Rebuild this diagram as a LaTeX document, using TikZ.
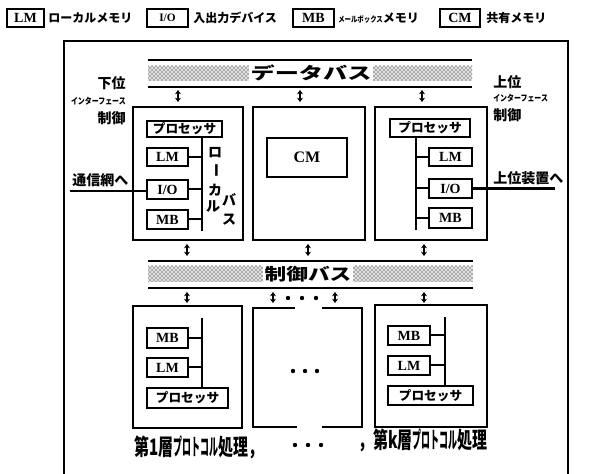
\documentclass[tikz,border=0pt]{standalone}
\usepackage{fontspec}
\setmainfont{Liberation Serif}
\newfontfamily\jp{Noto Sans CJK JP}
\usetikzlibrary{arrows.meta,fit,patterns}
\tikzset{
  bigbox/.style={draw, line width=1.8pt, inner sep=0pt},
  unit/.style={draw, line width=1.5pt, inner sep=0pt, font=\bfseries\fontsize{10.5}{11}\selectfont},
  punit/.style={draw, line width=1.5pt, inner sep=0pt, font=\jp\bfseries\fontsize{9.5}{10}\selectfont},
  jtext/.style={font=\jp\bfseries\fontsize{9}{10}\selectfont, inner sep=0pt},
  lbl/.style={font=\jp\bfseries\fontsize{10.5}{11}\selectfont, inner sep=0pt},
  buswire/.style={line width=1.5pt},
  busline/.style={line width=2pt},
  bi/.style={{Stealth[length=3.2pt,width=4.5pt]}-{Stealth[length=3.2pt,width=4.5pt]}, line width=1.6pt},
  bustext/.style={fill=white, inner sep=1pt, font=\jp\bfseries\fontsize{12.5}{13}\selectfont},
  hatch/.style={pattern=crosshatch dots, pattern color=black},
}
\newcommand{\tinyjp}[2]{\scalebox{#1}[1]{#2}}
% \ubox{style}{name}{x1}{y1}{x2}{y2}{text}
\newcommand{\ubox}[7]{\node[#1, minimum width={(#5-#3)*0.75pt}, minimum height={(#6-#4)*0.75pt}] (#2) at ({(#3+#5)/2},{(#4+#6)/2}) {#7};}
\begin{document}
\begin{tikzpicture}[x=0.75pt,y=-0.75pt]
\useasboundingbox (0,0) rectangle (615,474);
% outer frame
\draw[line width=1.2pt] (64,474) -- (64,41) -- (568,41) -- (568,474);

% legend
\ubox{unit}{lgLM}{7}{9}{44}{27}{LM}
\node[jtext, anchor=west] (lgLMt) at (48,18) {ローカルメモリ};
\ubox{unit,font=\bfseries\fontsize{8.5}{9}\selectfont}{lgIO}{147}{9}{188}{27}{I/O}
\node[jtext, anchor=west] (lgIOt) at (193,18) {入出力デバイス};
\ubox{unit}{lgMB}{293}{9}{334}{27}{MB}
\node[jtext, anchor=west] (lgMBt) at (338,18) {{\fontsize{6}{6}\selectfont\tinyjp{0.8}{メールボックス}}メモリ};
\ubox{unit}{lgCM}{440}{9}{480}{27}{CM}
\node[jtext, anchor=west] (lgCMt) at (486,18) {共有メモリ};

% data bus
\fill[black!12] (148,66) rectangle (472,81);
\fill[hatch] (148,66) rectangle (472,81);
\draw[busline] (148,60) -- (472,60);
\draw[busline] (148,87) -- (472,87);
\node[inner sep=0pt, fit={(148,60) (472,87)}] (dbus) {};
\node[bustext] (dbust) at (311,73) {\scalebox{1.45}[1]{データバス}};

% control bus
\fill[black!12] (148,266) rectangle (473,282);
\fill[hatch] (148,266) rectangle (473,282);
\draw[busline] (148,261) -- (473,261);
\draw[busline] (148,288) -- (473,288);
\node[inner sep=0pt, fit={(148,261) (473,288)}] (cbus) {};
\node[bustext] (cbust) at (308,274) {\scalebox{1.3}[1]{制御バス}};

% top boxes
\node[bigbox, fit={(133,107) (243,240)}] (tl) {};
\node[bigbox, fit={(253,107) (365,240)}] (tm) {};
\node[bigbox, fit={(375,107) (487,240)}] (tr) {};

% arrows data bus <-> top boxes
\draw[bi] (178,90) -- (178,102);
\draw[bi] (300,90) -- (300,102);
\draw[bi] (422,90) -- (422,102);
% arrows top boxes <-> control bus
\draw[bi] (187,244) -- (187,256);
\draw[bi] (308,244) -- (308,256);
\draw[bi] (424,244) -- (424,256);
% arrows control bus <-> bottom boxes
\draw[bi] (187,292) -- (187,303);
\draw[bi] (273,292) -- (273,303);
\draw[bi] (335,292) -- (335,303);
\draw[bi] (424,292) -- (424,303);
\foreach \dx in {288,302,316} \fill (\dx,298) circle (2.2);

% top-left box contents
\ubox{punit}{tlP}{147}{121}{222}{137}{プロセッサ}
\ubox{unit}{tlLM}{147}{148}{188}{166}{LM}
\ubox{unit}{tlIO}{147}{180}{188}{199}{I/O}
\ubox{unit}{tlMB}{147}{210}{188}{229}{MB}
\coordinate (tlbT) at (202,137);
\coordinate (tlbB) at (202,231);
\draw[buswire] (tlbT) -- (tlbB);
\draw[buswire] (tlLM.east) -- (tlLM.east -| tlbT);
\draw[buswire] (tlIO.east) -- (tlIO.east -| tlbT);
\draw[buswire] (tlMB.east) -- (tlMB.east -| tlbT);
\node[lbl] (lb1) at (215,153) {ロ};
\node[lbl] (lb2) at (215,171) {\rotatebox{-90}{ー}};
\node[lbl] (lb3) at (215,190) {カ};
\node[lbl] (lb4) at (213,207) {ル};
\node[lbl] (lb5) at (229,200) {バ};
\node[lbl] (lb6) at (229,220) {ス};
% external line left
\coordinate (netL) at (70,191);
\draw[line width=1.8pt] (netL) -- (netL -| tlIO.west);
\node[lbl, anchor=south west] (netT) at (72,187) {通信網へ};

% CM
\ubox{unit,line width=1.8pt,font=\bfseries\fontsize{12}{12}\selectfont}{cm}{267}{138}{347}{177}{CM}

% top-right box contents
\ubox{punit}{trP}{390}{119}{470}{137}{プロセッサ}
\ubox{unit}{trLM}{429}{148}{472}{166}{LM}
\ubox{unit}{trIO}{429}{179}{472}{198}{I/O}
\ubox{unit}{trMB}{429}{208}{472}{228}{MB}
\coordinate (trbT) at (416,137);
\coordinate (trbB) at (416,230);
\draw[buswire] (trbT) -- (trbB);
\draw[buswire] (trLM.west) -- (trLM.west -| trbT);
\draw[buswire] (trIO.west) -- (trIO.west -| trbT);
\draw[buswire] (trMB.west) -- (trMB.west -| trbT);
\coordinate (hostR) at (555,188);
\draw[line width=1.8pt] (trIO.east) -- (trIO.east -| hostR);
\node[lbl, anchor=south west] (hostT) at (493,185) {上位装置へ};

% interface labels
\node[lbl, anchor=east] (dl1) at (126,83) {下位};
\node[jtext, anchor=east, font=\jp\bfseries\fontsize{6.5}{7}\selectfont] (dl2) at (126,101) {\tinyjp{0.8}{インターフェース}};
\node[lbl, anchor=east] (dl3) at (126,118) {制御};
\node[lbl, anchor=west] (ul1) at (493,82) {上位};
\node[jtext, anchor=west, font=\jp\bfseries\fontsize{6.5}{7}\selectfont] (ul2) at (493,98) {\tinyjp{0.8}{インターフェース}};
\node[lbl, anchor=west] (ul3) at (493,115) {制御};

% bottom boxes
\node[bigbox, fit={(133,306) (242,428)}] (bl) {};
\node[bigbox, fit={(375,305) (487,427)}] (br) {};
\node[inner sep=0pt, fit={(253,308) (362,427)}] (bm) {};
\draw[line width=1.8pt] (295,308) -- (253,308) -- (253,427) -- (297,427);
\draw[line width=1.8pt] (322,308) -- (362,308) -- (362,427) -- (322,427);
\foreach \dx in {293,305,317} \fill (\dx,371) circle (2.2);

% bottom-left contents
\ubox{unit}{blMB}{147}{328}{188}{348}{MB}
\ubox{unit}{blLM}{147}{358}{188}{377}{LM}
\ubox{punit}{blP}{147}{388}{228}{408}{プロセッサ}
\coordinate (blbT) at (202,318);
\draw[buswire] (blbT) -- (blbT |- blP.north);
\draw[buswire] (blMB.east) -- (blMB.east -| blbT);
\draw[buswire] (blLM.east) -- (blLM.east -| blbT);

% bottom-right contents
\ubox{unit}{brMB}{388}{326}{430}{345}{MB}
\ubox{unit}{brLM}{388}{356}{430}{375}{LM}
\ubox{punit}{brP}{388}{386}{473}{405}{プロセッサ}
\coordinate (brbT) at (445,317);
\draw[buswire] (brbT) -- (brbT |- brP.north);
\draw[buswire] (brMB.east) -- (brMB.east -| brbT);
\draw[buswire] (brLM.east) -- (brLM.east -| brbT);

% layer labels
\node[inner sep=0pt, anchor=west, font=\jp\bfseries\fontsize{17}{18}\selectfont] (lay1) at (134,447)
  {\scalebox{0.66}[1]{第1層\scalebox{0.6}[1]{プロトコル}処理，}};
\foreach \dx in {295,308,321} \fill (\dx,445) circle (2.2);
\node[inner sep=0pt, anchor=east, font=\jp\bfseries\fontsize{17}{18}\selectfont] (layk) at (488,440)
  {\scalebox{0.66}[1]{，第k層\scalebox{0.6}[1]{プロトコル}処理}};
\end{tikzpicture}
\end{document}
